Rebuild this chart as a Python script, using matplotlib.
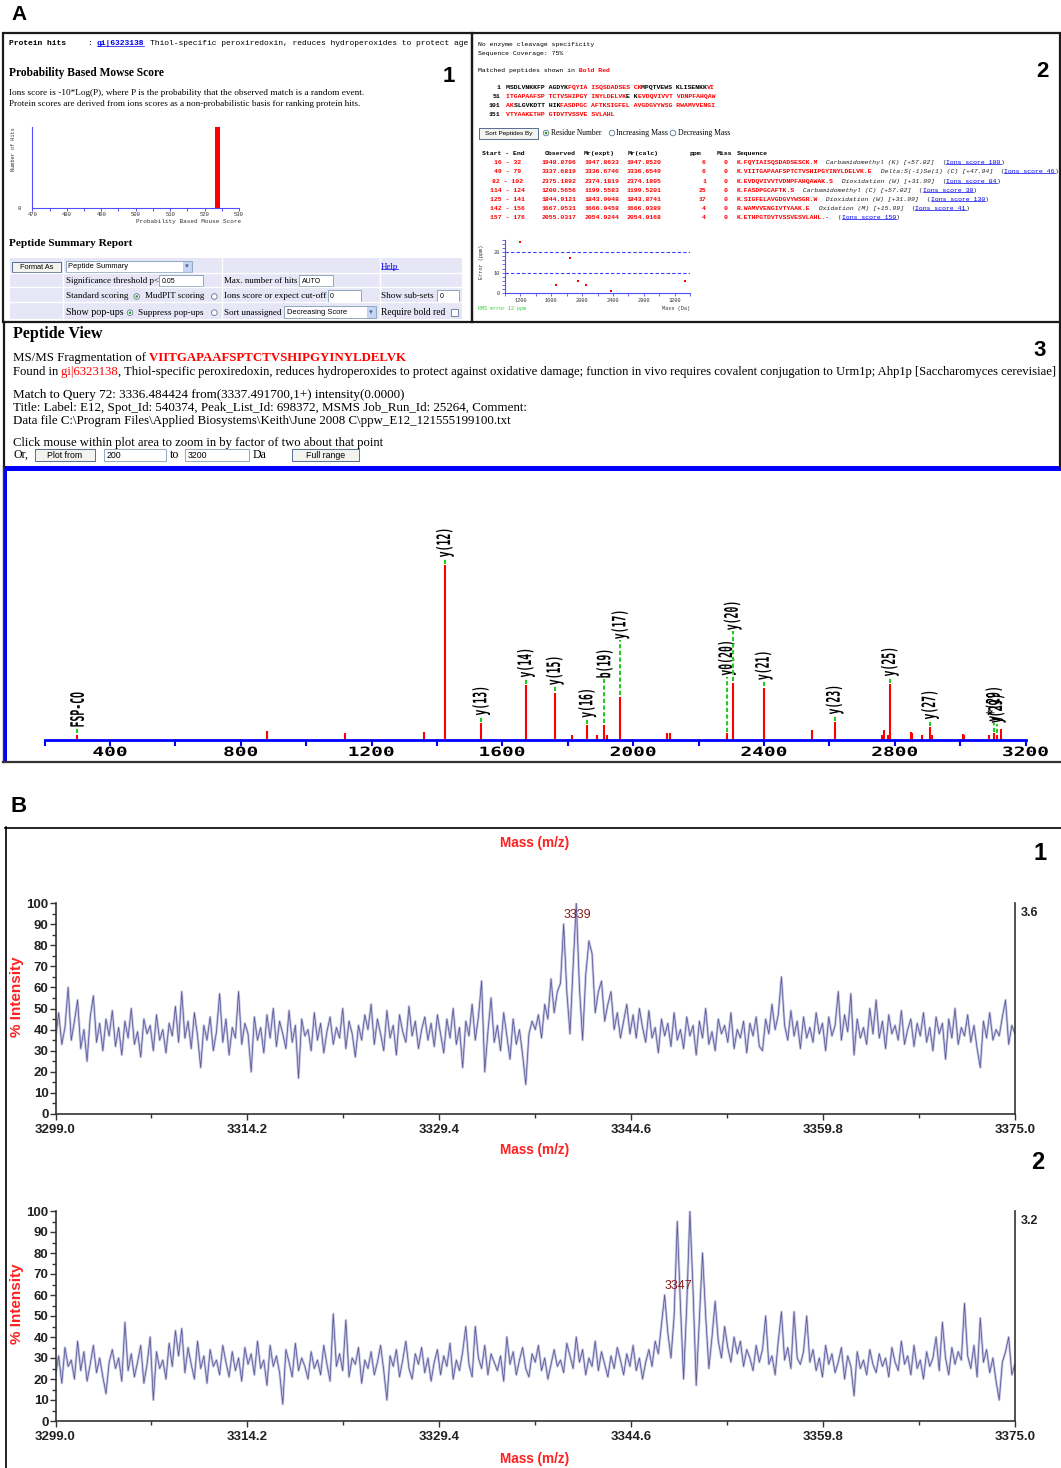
import numpy as np
import matplotlib
matplotlib.use("Agg")
import matplotlib.pyplot as plt
from matplotlib.patches import Rectangle, Circle, PathPatch
from matplotlib.textpath import TextPath
from matplotlib.font_manager import FontProperties
from matplotlib.transforms import Affine2D

# ---------------- A1: Mowse score distribution ----------------
mowse_score = [523.9]
mowse_hits = [1]

# ---------------- A2: protein and matched peptides ----------------
protein_seq = ("MSDLVNKKFPAGDYKFQYIAISQSDADSESCKMPQTVEWSKLISENKKVI"
               "ITGAPAAFSPTCTVSHIPGYINYLDELVKEKEVDQVIVVTVDNPFAHQAW"
               "AKSLGVKDTTHIKFASDPGCAFTKSIGFELAVGDGVYWSGRWAMVVENGI"
               "VTYAAKETHPGTDVTVSSVESVLAHL")
pep_start = [16, 49, 82, 114, 125, 142, 157]
pep_end = [32, 79, 102, 124, 141, 156, 176]
pep_observed = [1948.8706, 3337.6819, 2375.1892, 1200.5656, 1844.9121, 1667.0531, 2055.0317]
pep_mr_expt = [1947.8633, 3336.6746, 2374.1819, 1199.5583, 1843.9048, 1666.0458, 2054.0244]
pep_mr_calc = [1947.8520, 3336.6549, 2374.1805, 1199.5201, 1843.8741, 1666.0389, 2054.0168]
pep_ppm = [6, 6, 1, 25, 17, 4, 4]
pep_miss = [0, 0, 0, 0, 0, 0, 0]
pep_mods = ["Carbamidomethyl (K) [+57.02]", "Delta:S(-1)Se(1) (C) [+47.94]",
            "Dioxidation (W) [+31.99]", "Carbamidomethyl (C) [+57.02]",
            "Dioxidation (W) [+31.99]", "Oxidation (M) [+15.99]", ""]
pep_ions_score = [100, 46, 84, 30, 130, 41, 150]
rms_error = 12

# ---------------- A3: MS/MS spectrum of peptide 49-79 (y(12) = 100) ----------------
peak_mz = [299.5, 881.7, 1117.9, 1359.3, 1424.6, 1535.4, 1672.2, 1760.6, 1814.3, 1859.7,
           1890.6, 1912.3, 1919.5, 1960.8, 2104.2, 2112.5, 2286.8, 2304.4, 2399.3, 2545.8,
           2616.0, 2761.5, 2767.6, 2779.0, 2785.2, 2849.2, 2854.3, 2883.2, 2908.0, 2915.2,
           3008.0, 3012.2, 3087.5, 3105.0, 3112.3, 3124.6]
peak_int = [3.1, 5.0, 3.8, 4.4, 100, 9.6, 31.3, 26.9, 3.1, 8.3,
            3.1, 8.8, 3.1, 24.6, 3.8, 3.8, 3.8, 32.6, 29.8, 6.0,
            10.2, 3.1, 6.0, 3.1, 31.9, 4.8, 4.0, 3.1, 7.3, 3.1,
            3.6, 2.9, 3.1, 3.8, 2.9, 6.5]
peak_ion = ["FSP-CO", "", "", "", "y(12)", "y(13)", "y(14)", "y(15)", "", "y(16)",
            "", "b(19)", "", "y(17)", "", "", "y0(20)", "y(20)", "y(21)", "",
            "y(23)", "", "", "", "y(25)", "", "", "", "y(27)", "",
            "", "", "", "y*(29)", "y(29)", ""]
# labels pushed up to keep them apart (pixels above the peak top)
label_lift = {"b(19)": 47, "y(17)": 58, "y0(20)": 58, "y(20)": 53, "y*(29)": 12, "y(29)": 12}

# ---------------- B: MS spectra, 3299-3375 m/z, 0.25 steps ----------------
ms_mz = np.linspace(3299.0, 3375.0, 305)
ms1_intensity = [
    36, 48, 33, 41, 60, 35, 44, 54, 31, 40, 25, 46, 56, 34, 43, 30, 45, 37, 49, 32,
    41, 28, 44, 36, 50, 33, 39, 27, 45, 38, 42, 30, 47, 35, 40, 29, 43, 37, 51, 34,
    58, 36, 44, 31, 48, 37, 22, 42, 35, 46, 30, 39, 57, 34, 45, 28, 41, 36, 58, 33,
    43, 38, 20, 46, 35, 41, 29, 47, 36, 50, 32, 44, 38, 31, 49, 34, 42, 17, 45, 37,
    40, 30, 48, 35, 43, 29, 39, 46, 33, 41, 36, 50, 31, 44, 38, 27, 42, 35, 47, 40,
    52, 33, 45, 38, 30, 49, 36, 42, 28, 47, 39, 34, 51, 37, 44, 31, 40, 46, 35, 43,
    32, 47, 38, 29, 45, 36, 50, 33, 41, 22, 44, 37, 52, 35, 46, 63, 20, 39, 55, 34,
    42, 30, 48, 37, 26, 45, 33, 40, 28, 14, 38, 44, 40, 47, 36, 52, 45, 64, 48, 58,
    62, 90, 58, 38, 70, 100, 60, 35, 66, 82, 76, 48, 58, 63, 44, 52, 58, 40, 48, 36,
    44, 52, 38, 47, 36, 50, 41, 34, 49, 36, 41, 29, 45, 37, 43, 32, 48, 35, 40, 31,
    46, 37, 42, 28, 44, 36, 50, 33, 39, 30, 45, 38, 42, 34, 48, 31, 40, 36, 44, 29,
    43, 37, 46, 32, 30, 45, 38, 52, 40, 47, 65, 42, 35, 49, 37, 44, 31, 46, 36, 41,
    34, 48, 38, 43, 30, 46, 37, 42, 58, 35, 47, 39, 57, 28, 45, 36, 41, 33, 50, 38,
    54, 36, 44, 31, 47, 38, 42, 35, 49, 33, 40, 45, 32, 43, 37, 48, 34, 41, 30, 46,
    38, 43, 26, 45, 36, 50, 33, 41, 37, 47, 34, 42, 31, 22, 44, 36, 48, 35, 40, 37,
    46, 54, 33, 42, 38]
ms2_intensity = [
    22, 31, 18, 35, 26, 29, 20, 38, 24, 33, 19, 27, 36, 23, 30, 21, 13, 28, 34, 25,
    30, 19, 47, 24, 32, 21, 28, 36, 18, 27, 40, 10, 33, 25, 29, 20, 37, 26, 43, 31,
    44, 23, 35, 27, 20, 38, 25, 31, 18, 34, 26, 29, 22, 36, 28, 21, 33, 24, 30, 19,
    35, 27, 32, 22, 38, 25, 29, 17, 36, 26, 31, 23, 8, 34, 28, 21, 37, 24, 30, 26,
    20, 33, 25, 29, 22, 36, 27, 19, 51, 26, 32, 24, 48, 21, 30, 27, 35, 18, 29, 25,
    33, 22, 28, 36, 24, 10, 31, 26, 34, 21, 29, 38, 25, 20, 32, 27, 35, 23, 30, 19,
    28, 34, 22, 31, 26, 37, 20, 29, 24, 33, 45, 27, 21, 45, 30, 25, 36, 22, 32, 28,
    24, 31, 19, 40, 27, 33, 22, 29, 35, 25, 21, 32, 28, 36, 24, 30, 20, 27, 34, 26,
    29, 23, 37, 31, 25, 40, 28, 34, 22, 30, 26, 38, 24, 33, 27, 21, 31, 25, 35, 29,
    22, 32, 26, 36, 24, 30, 20, 28, 34, 26, 38, 32, 46, 60, 42, 30, 50, 95, 55, 20,
    55, 100, 62, 17, 48, 80, 50, 25, 40, 57, 38, 30, 45, 35, 28, 40, 32, 38, 26, 34,
    30, 24, 36, 28, 34, 50, 27, 31, 22, 38, 52, 29, 35, 25, 52, 30, 27, 33, 50, 28,
    34, 24, 30, 21, 36, 27, 32, 23, 28, 35, 20, 31, 26, 12, 33, 25, 29, 22, 34, 27,
    23, 32, 26, 30, 21, 35, 28, 24, 38, 27, 31, 22, 36, 25, 29, 20, 33, 26, 30, 40,
    24, 47, 30, 22, 35, 27, 33, 29, 56, 31, 25, 36, 21, 49, 28, 34, 23, 30, 19, 10,
    28, 33, 40, 22, 27]
ms1_label_mz = 3339.25
ms2_label_mz = 3347.25
ms1_max_counts = "3.6"
ms2_max_counts = "3.2"

# ---------------- page setup ----------------
W, H = 1061, 1468
SERIF, SANS, MONO = "Liberation Serif", "Liberation Sans", "Liberation Mono"
RED, LINK = "#ff0000", "#0000ee"

fig = plt.figure(figsize=(W / 100, H / 100), dpi=100)
ov = fig.add_axes([0, 0, 1, 1])
ov.set_xlim(0, W)
ov.set_ylim(H, 0)
ov.set_axis_off()
renderer = fig.canvas.get_renderer()
underlined = []


def px_axes(x0, y0, x1, y1):
    ax = fig.add_axes([x0 / W, 1 - y1 / H, (x1 - x0) / W, (y1 - y0) / H])
    ax.patch.set_visible(False)
    return ax


def to_img(ax, x, y):
    return ov.transData.inverted().transform(ax.transData.transform((x, y)))


def fit(texts, width):
    if not isinstance(texts, list):
        texts = [texts]
    boxes = [t.get_window_extent(renderer) for t in texts]
    scale = width / (boxes[-1].x1 - boxes[0].x0)
    for t in texts:
        t.set_fontsize(t.get_fontsize() * scale)


def T(x, y, s, size, family=SERIF, width=None, underline=False, **kw):
    kw.setdefault("va", "baseline")
    t = ov.text(x, y, s, fontsize=size, family=family, **kw)
    if width:
        fit(t, width)
    if underline:
        underlined.append(t)
    return t


def run(x, y, parts, size, family=SERIF, width=None):
    texts = []
    for s, style in parts:
        kw = dict(fontsize=size, family=family)
        kw.update(style)
        ul = kw.pop("underline", False)
        if texts:
            t = ov.annotate(s, xy=(1, 0), xycoords=texts[-1], va="bottom", ha="left", **kw)
        else:
            t = ov.text(x, y, s, va="baseline", ha="left", **kw)
        if ul:
            underlined.append(t)
        texts.append(t)
    if width:
        fit(texts, width)
    return texts


def rect(x0, y0, x1, y1, fc="none", ec="black", lw=1.0, z=1):
    ov.add_patch(Rectangle((x0, y0), x1 - x0, y1 - y0, facecolor=fc,
                           edgecolor=ec, linewidth=lw, zorder=z))


def button(x0, y0, x1, y1, label, size):
    rect(x0, y0, x1, y1, fc="#f3f3ef", ec="#3d5a80", lw=0.6)
    ov.text((x0 + x1) / 2, (y0 + y1) / 2 + 0.5, label, fontsize=size, family=SANS,
            ha="center", va="center")


def field(x0, y0, x1, y1, value, size, arrow=False):
    rect(x0, y0, x1, y1, fc="white", ec="#7f9db9", lw=0.6)
    ov.text(x0 + 2.5, (y0 + y1) / 2 + 0.5, value, fontsize=size, family=SANS, va="center")
    if arrow:
        rect(x1 - 9, y0 + 1, x1 - 1, y1 - 1, fc="#c6d6fb", ec="#a9bdea", lw=0.4)
        ov.text(x1 - 5, (y0 + y1) / 2, "\u25be", fontsize=size, family="DejaVu Sans",
                color="#4d6185", ha="center", va="center")


def radio(cx, cy, on):
    ov.add_patch(Circle((cx, cy), 2.8, facecolor="white", edgecolor="#5b7594", lw=0.6))
    if on:
        ov.add_patch(Circle((cx, cy), 1.3, facecolor="#21a121", edgecolor="none"))


pix_font = FontProperties(family="DejaVu Sans Mono", weight="bold")


def path_text(x, y, s, sx, sy, rotated=False, color="black"):
    # blocky spectrum lettering, stretched independently along and across the text
    tp = TextPath((0, 0), s, size=1, prop=pix_font)
    bb = tp.get_extents()
    if rotated:
        vc = (bb.y0 + bb.y1) / 2
        m = [[0, -sy, x + vc * sy], [-sx, 0, y + bb.x0 * sx], [0, 0, 1]]
    else:
        m = [[sx, 0, x - (bb.x0 + bb.x1) / 2 * sx], [0, -sy, y + bb.y1 * sy], [0, 0, 1]]
    ov.add_patch(PathPatch(tp, transform=Affine2D(np.array(m, float)) + ov.transData,
                           facecolor=color, edgecolor="none"))


# ---------------- frames ----------------
rect(3, 33, 472, 322, ec="#1a1a1a", lw=1.6)
rect(472, 33, 1060, 322, ec="#1a1a1a", lw=1.6)
ov.plot([3.5, 3.5], [322, 467], color="#1a1a1a", lw=1.6)
ov.plot([1059.5, 1059.5], [322, 467], color="#1a1a1a", lw=1.6)
rect(3, 466, 1061, 470.5, fc="#0000ff", ec="none")
rect(3, 466, 6.5, 762, fc="#0000ff", ec="none")
ov.plot([2.5, 2.5], [466, 762], color="#333333", lw=1)
ov.plot([3, 1061], [762, 762], color="#333333", lw=1.6)
ov.plot([5, 1061], [827.5, 827.5], color="black", lw=1.2)
ov.plot([5.5, 5.5], [827, 1468], color="black", lw=1.2)

T(11, 20, "A", 15, SANS, fontweight="bold")
T(11, 812, "B", 16, SANS, fontweight="bold")

# ---------------- A1 ----------------
T(9.3, 45, "Protein hits", 5.74, MONO, fontweight="bold")
T(87.3, 45, ":", 5.74, MONO)
T(96.7, 45, "gi|6323138", 5.74, MONO, fontweight="bold", color=LINK, underline=True)
T(150, 45, "Thiol-specific peroxiredoxin, reduces hydroperoxides to protect age", 5.74, MONO)
T(449, 82, "1", 16, SANS, fontweight="bold", ha="center")
T(9.3, 76, "Probability Based Mowse Score", 7.8, fontweight="bold", width=157)
T(9.3, 95, "Ions score is -10*Log(P), where P is the probability that the observed match "
    "is a random event.", 5.8, width=347)
T(9.3, 106.3, "Protein scores are derived from ions scores as a non-probabilistic basis "
    "for ranking protein hits.", 5.8, width=343)

hx = px_axes(32.3, 126.7, 239, 207.7)
hx.bar(mowse_score, mowse_hits, width=1.45, color=RED, linewidth=0)
hx.set_xlim(470, 530)
hx.set_ylim(0, 1)
for s in ("top", "right"):
    hx.spines[s].set_visible(False)
for s in ("left", "bottom"):
    hx.spines[s].set_color("#4f4fff")
    hx.spines[s].set_linewidth(0.8)
hx.set_xticks(range(470, 531, 10))
hx.set_xticks(range(475, 530, 10), minor=True)
hx.tick_params(axis="x", which="both", direction="out", length=2, width=0.7,
               color="#4f4fff", labelsize=4, pad=1, labelcolor="#333333")
hx.set_yticks([0])
hx.tick_params(axis="y", length=0, labelsize=4, pad=8, labelcolor="#333333")
for lab in hx.get_xticklabels() + hx.get_yticklabels():
    lab.set_family(MONO)
T(14, 149, "Number of Hits", 3.8, MONO, rotation=90, ha="center", va="center", color="#333333")
T(188.3, 221.7, "Probability Based Mouse Score", 4.3, MONO, ha="center", va="center",
  color="#333333")

T(9.3, 245.5, "Peptide Summary Report", 8, fontweight="bold", width=124)

rect(10, 258.3, 462, 319.3, fc="#e6e6f6", ec="none")
for xv in (63.3, 221.7, 380):
    ov.plot([xv, xv], [258.3, 319.3], color="white", lw=1)
for yv in (272.7, 286.7, 302.3):
    ov.plot([10, 462], [yv, yv], color="white", lw=1)
button(12.3, 261.7, 61, 271.7, "Format As", 5.3)
field(66, 260.7, 191.7, 272.3, "Peptide Summary", 5.4, arrow=True)
T(381, 269, "Help", 5.9, color=LINK, width=17.3, underline=True)
T(66, 283, "Significance threshold p<", 5.9, width=92)
field(159.3, 275, 203.3, 286.3, "0.05", 5.0)
T(224, 283, "Max. number of hits", 5.9, width=72)
field(299.3, 275, 332.7, 286.3, "AUTO", 5.0)
T(66, 298.5, "Standard scoring", 5.6, width=61.7)
radio(136.7, 296.5, True)
T(145.3, 298.5, "MudPIT scoring", 5.6, width=58.7)
radio(214.3, 296.5, False)
T(224, 298.5, "Ions score or expect cut-off", 5.6, width=101)
field(327.7, 289.7, 361, 301.7, "0", 5.0)
T(381, 298.5, "Show sub-sets", 5.6, width=52.3)
field(437.3, 290, 459.3, 301.7, "0", 5.0)
T(66, 315, "Show pop-ups", 5.9, width=57.3)
radio(130, 312.7, True)
T(138.3, 315, "Suppress pop-ups", 5.9, width=65.7)
radio(214.3, 312.7, False)
T(224, 315, "Sort unassigned", 5.9, width=57)
field(284.3, 305.5, 375.7, 318.3, "Decreasing Score", 5.4, arrow=True)
T(381, 315, "Require bold red", 5.9, width=63.3)
rect(451, 309.3, 458.3, 316.3, fc="white", ec="#5b7594", lw=0.6)

# ---------------- A2 ----------------
n_res = len(protein_seq)
covered = [any(s <= i + 1 <= e for s, e in zip(pep_start, pep_end)) for i in range(n_res)]
coverage = round(100 * sum(covered) / n_res)
MS = 4.65
T(478, 46, "No enzyme cleavage specificity", MS, MONO)
T(478, 54.5, f"Sequence Coverage: {coverage}%", MS, MONO)
run(478, 72, [("Matched peptides shown in", {}),
              (" Bold Red", dict(color=RED, fontweight="bold"))], MS, MONO)
T(1042, 77, "2", 16, SANS, fontweight="bold", ha="center")

for k, yb in zip(range(0, n_res, 50), (88.8, 98.1, 106.8, 115.8)):
    T(500, yb, str(k + 1), MS, MONO, fontweight="bold", ha="right")
    parts = []
    for j in range(k, min(k + 50, n_res)):
        ch = (" " if j > k and (j - k) % 10 == 0 else "") + protein_seq[j]
        if parts and parts[-1][1] == covered[j]:
            parts[-1][0] += ch
        else:
            parts.append([ch, covered[j]])
    run(505.8, yb, [(s, dict(fontweight="bold", color=RED if red else "black"))
                    for s, red in parts], MS, MONO)

button(479, 127.5, 538, 138.5, "Sort Peptides By", 4.6)
radio(546, 133, True)
T(551, 135.2, "Residue Number", 5.3, width=51)
radio(612, 133, False)
T(616, 135.2, "Increasing Mass", 5.3, width=52)
radio(673, 133, False)
T(677.5, 135.2, "Decreasing Mass", 5.3, width=53)

hdr = dict(fontweight="bold")
T(482.5, 155, "Start - End", MS, MONO, **hdr)
T(544.5, 155, "Observed", MS, MONO, **hdr)
T(584, 155, "Mr(expt)", MS, MONO, **hdr)
T(628, 155, "Mr(calc)", MS, MONO, **hdr)
T(689, 155, "ppm", MS, MONO, **hdr)
T(717, 155, "Miss", MS, MONO, **hdr)
T(737, 155, "Sequence", MS, MONO, **hdr)
row_y = [163.8, 172.8, 182.8, 191.8, 200.8, 209.8, 218.8]
red_b = dict(color=RED, fontweight="bold")
for i, yb in enumerate(row_y):
    s, e = pep_start[i], pep_end[i]
    T(507.5, yb, f"{s} - {e}", MS, MONO, ha="center", **red_b)
    T(541.5, yb, f"{pep_observed[i]:.4f}", MS, MONO, **red_b)
    T(584.7, yb, f"{pep_mr_expt[i]:.4f}", MS, MONO, **red_b)
    T(627, yb, f"{pep_mr_calc[i]:.4f}", MS, MONO, **red_b)
    T(706, yb, str(pep_ppm[i]), MS, MONO, ha="right", **red_b)
    T(727, yb, str(pep_miss[i]), MS, MONO, ha="right", **red_b)
    after = protein_seq[e] if e < n_res else "-"
    pep = f"{protein_seq[s - 2]}.{protein_seq[s - 1:e]}.{after}"
    parts = [(pep, red_b)]
    if pep_mods[i]:
        parts.append(("  " + pep_mods[i], dict(style="italic", color="#222222")))
    parts += [("  (", dict(color="#222222")),
              (f"Ions score {pep_ions_score[i]}", dict(color=LINK, underline=True)),
              (")", dict(color="#222222"))]
    run(737, yb, parts, MS, MONO)

ep = px_axes(505, 240, 690, 293)
ep.scatter(pep_mr_expt, pep_ppm, marker="s", s=3, color=RED, linewidths=0, zorder=3)
for lvl in (10, 20):
    ep.axhline(lvl, color="#3b3bff", lw=0.8, dashes=(3, 2))
ep.set_xlim(1000, 3400)
ep.set_ylim(0, 26)
for s in ("top", "right"):
    ep.spines[s].set_visible(False)
for s in ("left", "bottom"):
    ep.spines[s].set_color("#4f4fff")
    ep.spines[s].set_linewidth(0.8)
ep.set_xticks(range(1200, 3201, 400))
ep.set_xticks(range(1000, 3401, 200), minor=True)
ep.set_yticks([0, 10, 20])
ep.set_yticks(range(0, 27, 2), minor=True)
ep.tick_params(which="both", direction="out", length=2, width=0.6, color="#4f4fff",
               labelsize=3.8, pad=1.5, labelcolor="#333333")
for lab in ep.get_xticklabels() + ep.get_yticklabels():
    lab.set_family(MONO)
T(481, 262, "Error (ppm)", 3.8, MONO, rotation=90, ha="center", va="center", color="#333333")
T(478, 310, f"RMS error {rms_error} ppm", 3.6, MONO, color="#33cc33")
T(690, 310, "Mass (Da)", 3.8, MONO, ha="right", color="#333333")

# ---------------- A3 text ----------------
BS = 8.6
T(13, 337.5, "Peptide View", 9.8, fontweight="bold", width=90)
T(1040, 356, "3", 16, SANS, fontweight="bold", ha="center")
run(13, 361, [("MS/MS Fragmentation of", {}),
              (" " + protein_seq[pep_start[1] - 1:pep_end[1]], dict(color=RED, fontweight="bold"))],
    BS, width=395)
run(13, 375, [("Found in", {}), (" gi|6323138", dict(color=RED)),
              (", Thiol-specific peroxiredoxin, reduces hydroperoxides to protect against "
               "oxidative damage; function in vivo requires covalent conjugation to Urm1p; "
               "Ahp1p [Saccharomyces cerevisiae]", {})], BS, width=1044)
T(13, 398, "Match to Query 72: 3336.484424 from(3337.491700,1+) intensity(0.0000)", BS, width=390)
T(13, 411, "Title: Label: E12, Spot_Id: 540374, Peak_List_Id: 698372, MSMS Job_Run_Id: 25264, "
    "Comment:", BS, width=513)
T(13, 424, r"Data file C:\Program Files\Applied Biosystems\Keith\June 2008 C\ppw_E12_121555199100.txt",
  BS, width=496)
T(13, 446, "Click mouse within plot area to zoom in by factor of two about that point", BS, width=370)
T(13, 458, "Or,", BS)
button(35, 449, 95, 461, "Plot from", 6.3)
field(104, 449, 166, 461, "200", 6.3)
T(170, 458, "to", BS)
field(185, 449, 249, 461, "3200", 6.3)
T(253, 458, "Da", BS)
button(292, 449, 359, 461, "Full range", 6.3)

# ---------------- A3 spectrum ----------------
sp = px_axes(44.5, 470, 1025.5, 740)
sp.vlines(peak_mz, 0, peak_int, colors=RED, lw=1.5)
sp.set_xlim(200, 3200)
sp.set_ylim(0, 154.3)
for s in ("left", "right", "top"):
    sp.spines[s].set_visible(False)
sp.spines["bottom"].set_color("#0000ff")
sp.spines["bottom"].set_linewidth(2)
sp.set_xticks(range(400, 3201, 400))
sp.set_xticks(range(200, 3001, 400), minor=True)
sp.set_yticks([])
sp.tick_params(axis="x", which="both", direction="out", length=4, width=1.5,
               colors="#0000ff", labelbottom=False)
for v in range(400, 3201, 400):
    x, _ = to_img(sp, v, 0)
    path_text(x, 746.5, str(v), 19.5, 12.8)
for mz, inten, ion in zip(peak_mz, peak_int, peak_ion):
    if not ion:
        continue
    x, ytop = to_img(sp, mz, inten)
    ybot = ytop - label_lift.get(ion, 8)
    ov.plot([x, x], [ytop - 1.5, ybot + 1.5], color="#22cc22", lw=1.5, dashes=(2, 1.2))
    path_text(x, ybot, ion, 9.8, 18.5, rotated=True)

# ---------------- B: MS spectra ----------------
AX = "#333333"


def ms_panel(y0, y1, intensity, label_mz, max_counts):
    ax = px_axes(55.5, y0, 1015, y1)
    # soft lavender halo under a thin navy trace
    ax.plot(ms_mz, intensity, color="#c4c4e2", lw=1.8, solid_joinstyle="round")
    ax.plot(ms_mz, intensity, color="#34347e", lw=0.55, alpha=0.75)
    ax.set_xlim(3299.0, 3375.0)
    ax.set_ylim(0, 100)
    ax.spines["top"].set_visible(False)
    for s in ("left", "bottom", "right"):
        ax.spines[s].set_color(AX)
        ax.spines[s].set_linewidth(1.2)
    major = np.linspace(3299.0, 3375.0, 6)
    ax.set_xticks(major)
    ax.set_xticks((major[:-1] + major[1:]) / 2, minor=True)
    ax.set_xticklabels([f"{v:.1f}" for v in major])
    ax.set_yticks(range(0, 101, 10))
    ax.set_yticks(range(0, 101, 5), minor=True)
    ax.tick_params(which="major", direction="out", length=4, width=1, color=AX,
                   labelsize=9.5, labelcolor="#222222")
    ax.tick_params(which="minor", direction="out", length=3, width=1, color=AX)
    ax.tick_params(axis="x", pad=3)
    ax.tick_params(axis="y", pad=1)
    for lab in ax.get_xticklabels() + ax.get_yticklabels():
        lab.set_family(SANS)
        lab.set_fontweight("bold")
    i = int(np.argmin(np.abs(ms_mz - label_mz)))
    ax.text(ms_mz[i], intensity[i] + 1.5, f"{int(ms_mz[i])}", color="#8b1a1a", fontsize=9,
            family=SANS, ha="left", va="bottom")
    T(1021, (y0 + 10), max_counts, 9, SANS, fontweight="bold", va="center", color="#222222")
    T(17, (y0 + y1) / 2 - 12, "% Intensity", 11, SANS, fontweight="bold", color="#ff2020",
      rotation=90, ha="center", va="center")
    return ax


ms_panel(903, 1114, ms1_intensity, ms1_label_mz, ms1_max_counts)
ms_panel(1211, 1421, ms2_intensity, ms2_label_mz, ms2_max_counts)
for yc in (843, 1150, 1459):
    T(535, yc, "Mass (m/z)", 9.8, SANS, fontweight="bold", color="#ff2020", ha="center", va="center")
T(1040, 860, "1", 17, SANS, fontweight="bold", ha="center")
T(1038, 1169, "2", 17, SANS, fontweight="bold", ha="center")

# underline hyperlinks once the layout is final
fig.canvas.draw()
inv = ov.transData.inverted()
for t in underlined:
    bb = t.get_window_extent(renderer)
    (x0, yb), (x1, yt) = inv.transform([[bb.x0, bb.y0], [bb.x1, bb.y1]])
    uy = yb - 0.2 * (yb - yt)
    ov.plot([x0, x1], [uy, uy], color=t.get_color(), lw=0.5)

fig.savefig("out.png", dpi=100)
